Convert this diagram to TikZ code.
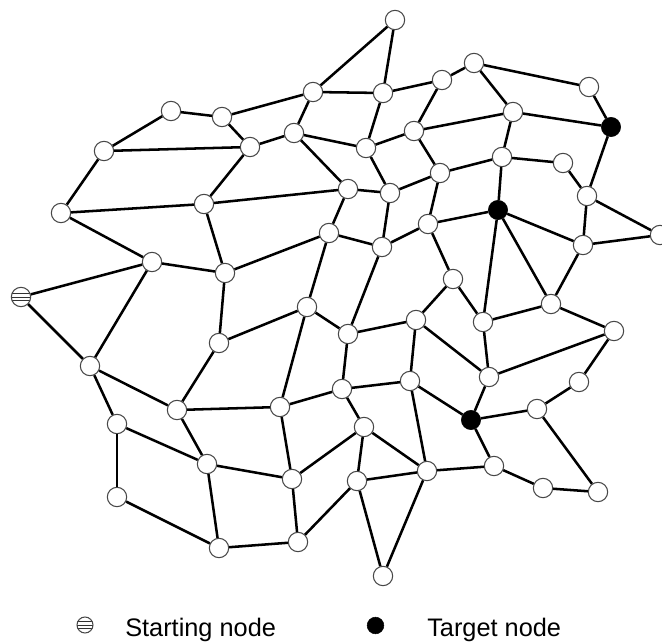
\documentclass[tikz,border=0pt]{standalone}
\usepackage{fontspec}
\setmainfont{Liberation Sans}
\begin{document}
\begin{tikzpicture}[x=0.75pt,y=-0.75pt,
  vtx/.style={circle,draw=black!72,line width=0.8pt,fill=white,minimum size=14.5pt,inner sep=0pt},
  target/.style={circle,draw=black,fill=black,minimum size=14.5pt,inner sep=0pt},
  start/.style={vtx,path picture={
      \foreach \k in {-2.7,0,2.7}
        \draw[black!80,line width=0.6pt]
          ([yshift=\k pt]path picture bounding box.west) --
          ([yshift=\k pt]path picture bounding box.east);}},
  edge/.style={line width=1.9pt,black},
  legend/.style={font=\fontsize{19}{22}\selectfont,anchor=base west,inner sep=0pt}]
\clip (0,0) rectangle (662,642);

% vertices
\node[vtx] (n1) at (395,20) {};
\node[vtx] (n2) at (474,63) {};
\node[vtx] (n3) at (442,80) {};
\node[vtx] (n4) at (313,92) {};
\node[vtx] (n5) at (383,93) {};
\node[vtx] (n6) at (589,87) {};
\node[target] (n7) at (611,127) {};
\node[vtx] (n8) at (171,111) {};
\node[vtx] (n9) at (222,117) {};
\node[vtx] (n10) at (294,133) {};
\node[vtx] (n11) at (104,151) {};
\node[vtx] (n12) at (250,147) {};
\node[vtx] (n13) at (366,148) {};
\node[vtx] (n14) at (414,131) {};
\node[vtx] (n15a) at (513,112) {};
\node[vtx] (n15) at (502,157) {};
\node[vtx] (n16) at (563,163) {};
\node[vtx] (n17) at (440,173) {};
\node[vtx] (n18) at (348,189) {};
\node[vtx] (n19) at (390,193) {};
\node[vtx] (n20) at (587,196) {};
\node[vtx] (n21) at (61,213) {};
\node[vtx] (n22) at (204,204) {};
\node[target] (n23) at (498,210) {};
\node[vtx] (n24) at (329,233) {};
\node[vtx] (n25) at (382,247) {};
\node[vtx] (n26) at (428,224) {};
\node[vtx] (n26b) at (453,279) {};
\node[vtx] (n27) at (583,245) {};
\node[vtx] (n28) at (660,235) {};
\node[vtx] (n29) at (152,262) {};
\node[vtx] (n30) at (225,273) {};
\node[start] (n31) at (21,297) {};
\node[vtx] (n32) at (307,307) {};
\node[vtx] (n33) at (551,304) {};
\node[vtx] (n34) at (348,334) {};
\node[vtx] (n35) at (416,320) {};
\node[vtx] (n36) at (483,322) {};
\node[vtx] (n37) at (614,331) {};
\node[vtx] (n38) at (219,343) {};
\node[vtx] (n39) at (90,366) {};
\node[vtx] (n40) at (489,377) {};
\node[vtx] (n41) at (579,382) {};
\node[vtx] (n42) at (410,381) {};
\node[vtx] (n43) at (342,389) {};
\node[vtx] (n44) at (177,410) {};
\node[vtx] (n45) at (280,407) {};
\node[target] (n46) at (471,420) {};
\node[vtx] (n47) at (537,409) {};
\node[vtx] (n48) at (117,424) {};
\node[vtx] (n49) at (364,427) {};
\node[vtx] (n50) at (207,464) {};
\node[vtx] (n51) at (494,466) {};
\node[vtx] (n52) at (292,479) {};
\node[vtx] (n53) at (357,481) {};
\node[vtx] (n54) at (427,471) {};
\node[vtx] (n55) at (117,497) {};
\node[vtx] (n56) at (543,488) {};
\node[vtx] (n57) at (598,492) {};
\node[vtx] (n58) at (219,548) {};
\node[vtx] (n59) at (298,542) {};
\node[vtx] (n60) at (383,576) {};

% edges
\foreach \a/\b in {
  n1/n4, n1/n5, n4/n5, n5/n3, n3/n2, n2/n6, n2/n15a, n6/n7, n15a/n7,
  n15a/n14, n3/n14, n15a/n15, n7/n20, n15/n16, n16/n20, n15/n17, n15/n23,
  n4/n9, n8/n9, n8/n11, n11/n12, n9/n12, n12/n10, n10/n4, n10/n13,
  n10/n18, n13/n5, n13/n14, n13/n19, n14/n17, n17/n19, n17/n26,
  n18/n19, n18/n22, n18/n24, n19/n25, n11/n21, n21/n22, n22/n12,
  n21/n29, n22/n30, n29/n30, n29/n31, n29/n39, n31/n39, n30/n24,
  n30/n38, n24/n25, n24/n32, n25/n26, n26/n23, n26/n26b, n25/n34,
  n32/n34, n32/n38, n32/n45, n34/n35, n34/n43, n26b/n35, n26b/n36,
  n35/n42, n35/n40, n43/n45, n43/n42, n42/n46, n42/n54, n23/n27,
  n23/n33, n23/n36, n20/n27, n20/n28, n27/n28, n27/n33, n36/n33,
  n33/n37, n36/n40, n40/n37, n37/n41, n41/n47, n40/n46, n46/n47,
  n47/n57, n46/n51, n51/n54, n51/n56, n56/n57, n45/n44, n43/n49,
  n49/n53, n49/n54, n49/n52, n53/n54, n52/n50, n45/n52, n52/n59,
  n59/n58, n59/n53, n53/n60, n54/n60, n44/n38, n39/n44, n48/n39,
  n48/n50, n44/n50, n48/n55, n55/n58, n50/n58}
  \draw[edge] (\a) -- (\b);

% legend
\node[start,minimum size=12pt] (keystart) at (85,625) {};
\node[legend] (keystarttext) at (125,636.5) {Starting node};
\node[target,minimum size=12.5pt] (keytarget) at (375.5,625.5) {};
\node[legend] (keytargettext) at (427,636.5) {Target node};
\end{tikzpicture}
\end{document}
